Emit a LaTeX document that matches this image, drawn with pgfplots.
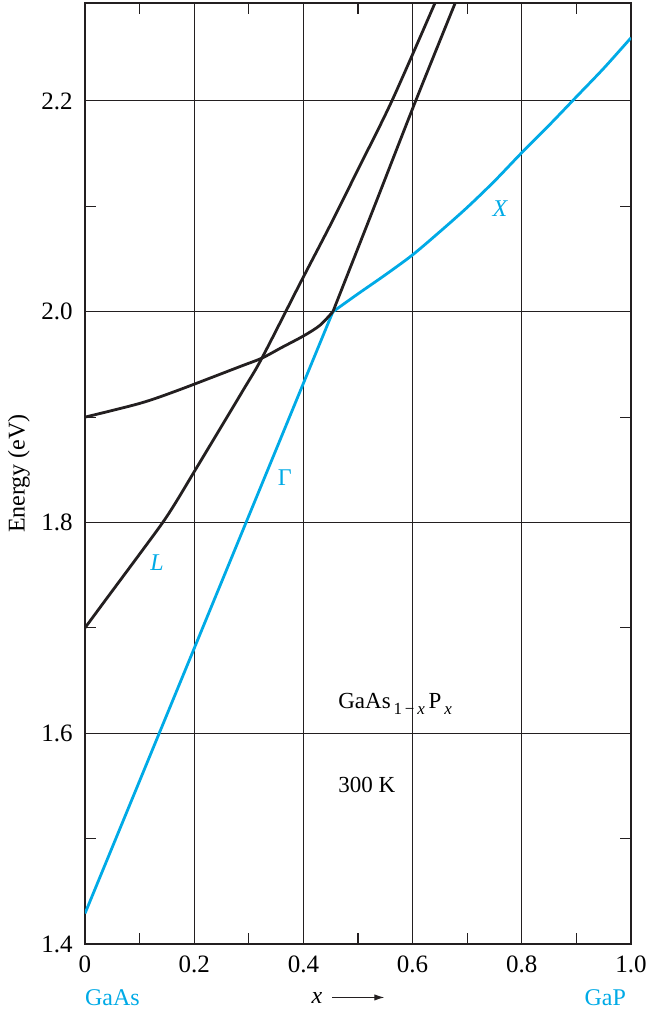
\documentclass[border=0pt]{standalone}
\usepackage{fontspec}
\setmainfont{Liberation Serif}
\usepackage{pgfplots}
\pgfplotsset{compat=1.18}
\usetikzlibrary{arrows.meta}
\definecolor{cblue}{RGB}{0,170,230}
\definecolor{cblack}{RGB}{35,31,32}
\begin{document}
\begin{tikzpicture}[font=\fontsize{11.5}{13}\selectfont]
\begin{axis}[
  scale only axis, width=273pt, height=470.5pt,
  xmin=0, xmax=1, ymin=1.4, ymax=2.293,
  xtick={0,0.2,0.4,0.6,0.8,1.0}, xticklabels={0,0.2,0.4,0.6,0.8,1.0},
  ytick={1.4,1.6,1.8,2.0,2.2}, yticklabels={1.4,1.6,1.8,2.0,2.2},
  minor xtick={0.1,0.3,0.5,0.7,0.9}, minor ytick={1.5,1.7,1.9,2.1},
  major tick length=0pt, minor tick length=5.5pt, tick align=inside,
  minor tick style={cblack, line width=0.6pt},
  grid=major, major grid style={cblack, line width=0.5pt},
  axis line style={cblack, line width=0.7pt},
  xticklabel style={yshift=-2.2pt, font=\fontsize{12.5}{14}\selectfont},
  yticklabel style={xshift=-2.6pt, font=\fontsize{12.5}{14}\selectfont},
  clip=true,
]
% Gamma (direct) - blue part
\addplot[cblue, line width=1.4pt] coordinates {(0,1.429) (0.454,2.0)};
% X - blue part
\addplot[cblue, line width=1.4pt, smooth] coordinates {
 (0.454,2.0) (0.5,2.017) (0.55,2.035) (0.6,2.054) (0.65,2.076) (0.7,2.099)
 (0.75,2.124) (0.8,2.151) (0.85,2.177) (0.9,2.204) (0.95,2.231) (1.0,2.260)};
% X - black part
\addplot[cblack, line width=1.4pt, smooth] coordinates {
 (0,1.9) (0.1,1.913) (0.168,1.925) (0.284,1.948) (0.324,1.956) (0.36,1.966) (0.4,1.977) (0.43,1.987) (0.454,2.0)};
% L
\addplot[cblack, line width=1.4pt, smooth] coordinates {
 (0,1.7) (0.037,1.726) (0.1,1.77) (0.141,1.799) (0.165,1.818) (0.201,1.849)
 (0.289,1.925) (0.324,1.956) (0.394,2.027) (0.45,2.083) (0.5,2.135) (0.562,2.2) (0.641,2.293)};
% Gamma - black part
\addplot[cblack, line width=1.4pt, smooth] coordinates {
 (0.454,2.0) (0.53,2.1) (0.604,2.198) (0.678,2.293)};
\node[text=cblue, font=\fontsize{12}{13}\selectfont\itshape] at (axis cs:0.132,1.762) {L};
\node[text=cblue, font=\fontsize{12}{13}\selectfont] at (axis cs:0.366,1.843) {Γ};
\node[text=cblue, font=\fontsize{12}{13}\selectfont\itshape] at (axis cs:0.76,2.098) {X};
\node at (axis cs:0.568,1.628) {GaAs\raisebox{-0.55ex}{\fontsize{8.5}{9}\selectfont\,1\,−\,\textit{x}}\,P\raisebox{-0.55ex}{\fontsize{8.5}{9}\selectfont\,\textit{x}}};
\node at (axis cs:0.516,1.551) {300 K};
\coordinate (bl) at (rel axis cs:0,0);
\coordinate (br) at (rel axis cs:1,0);
\coordinate (tr) at (rel axis cs:1,1);
\coordinate (lc) at (rel axis cs:0,0.5);
\coordinate (xl) at (axis cs:0.482,1.4);
\end{axis}
\node[rotate=90, font=\fontsize{12}{13}\selectfont] at ([xshift=-33pt]lc) {Energy (eV)};
\node[anchor=west, text=cblue, font=\fontsize{12}{13}\selectfont] at ([xshift=-3.5pt,yshift=-27pt]bl) {GaAs};
\node[anchor=east, text=cblue, font=\fontsize{12}{13}\selectfont] at ([xshift=1pt,yshift=-27pt]br) {GaP};
\node[font=\fontsize{12}{13}\selectfont] at ([yshift=-27pt]xl) {\textit{x}\hspace{0.4em}\tikz[baseline]{\draw[cblack, line width=0.5pt, -{Latex[length=5pt,width=3.2pt]}] (0,0.55ex)--(26pt,0.55ex);}};
\pgfresetboundingbox
\path ([xshift=-42.5pt,yshift=-33.5pt]bl) rectangle ([xshift=9pt,yshift=1.5pt]tr);
\end{tikzpicture}
\end{document}
